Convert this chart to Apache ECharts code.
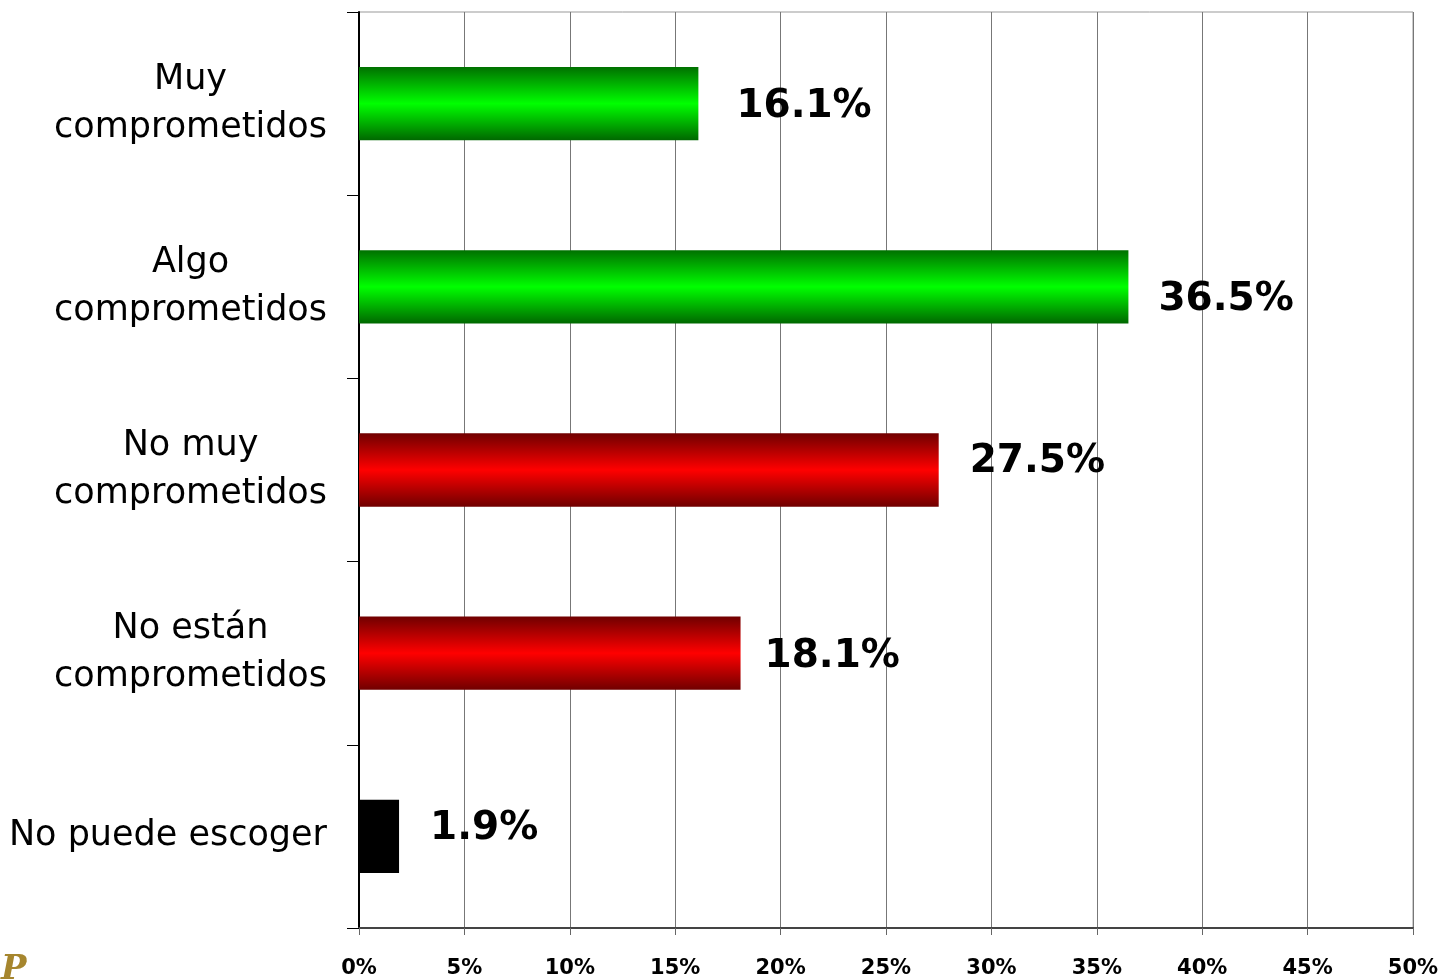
<!DOCTYPE html>
<html>
<head>
<meta charset="utf-8">
<script src="https://cdn.jsdelivr.net/npm/echarts@6/dist/echarts.min.js"></script>
<style>html,body{margin:0;padding:0;background:#fff;}#c{width:1439px;height:979px;}</style>
</head>
<body>
<div id="c"></div>
<script>
const categories = ["Muy\ncomprometidos", "Algo\ncomprometidos", "No muy\ncomprometidos", "No están\ncomprometidos", "No puede escoger"];
const values = [16.1, 36.5, 27.5, 18.1, 1.9];
const xTicks = [0, 5, 10, 15, 20, 25, 30, 35, 40, 45, 50];

const green = new echarts.graphic.LinearGradient(0, 0, 0, 1, [
  {offset: 0, color: '#007000'}, {offset: 0.5, color: '#00ff00'}, {offset: 1, color: '#006800'}]);
const red = new echarts.graphic.LinearGradient(0, 0, 0, 1, [
  {offset: 0, color: '#700000'}, {offset: 0.5, color: '#ff0000'}, {offset: 1, color: '#700000'}]);
const fills = [green, green, red, red, '#000000'];
const labelOffsets = [[8, 3], [0, 13], [1, -8], [-6, 4], [1, -8]];

const chart = echarts.init(document.getElementById('c'));
chart.setOption({
  animation: false,
  backgroundColor: '#fff',
  grid: {left: 359, right: 26, top: 12, bottom: 51, show: true, borderColor: '#999', borderWidth: 1,
    containLabel: false, outerBoundsMode: 'none'},
  xAxis: {
    type: 'value', min: 0, max: 50, interval: 5,
    axisLine: {show: true, lineStyle: {color: '#444', width: 2}},
    axisTick: {show: true, length: 7, lineStyle: {color: '#666'}},
    splitLine: {show: true, lineStyle: {color: '#777', width: 1}},
    axisLabel: {margin: 30, fontFamily: 'DejaVu Sans', fontWeight: 'bold', fontSize: 21, color: '#000',
      formatter: v => xTicks.includes(v) ? v + '%' : ''}
  },
  yAxis: {
    type: 'category', inverse: true, data: categories,
    axisLine: {show: true, lineStyle: {color: '#000', width: 2}},
    axisTick: {show: true, length: 12, lineStyle: {color: '#000'}},
    axisLabel: {
      margin: 32, color: '#000',
      formatter: v => v.split('\n').map(s => '{c|' + s + '}').join('\n'),
      rich: {c: {fontFamily: 'DejaVu Sans', fontSize: 35, lineHeight: 48, align: 'center', color: '#000'}}
    }
  },
  series: [{
    type: 'bar',
    barWidth: '40%',
    data: values.map((v, i) => ({
      value: v,
      itemStyle: {color: fills[i]},
      label: {offset: labelOffsets[i]}
    })),
    label: {
      show: true, position: 'right', distance: 30,
      fontFamily: 'DejaVu Sans', fontWeight: 'bold', fontSize: 39, color: '#000',
      formatter: p => p.value.toFixed(1) + '%'
    }
  }],
  graphic: [{
    type: 'text', left: 1, top: 953,
    style: {text: 'P', font: 'italic bold 34px "DejaVu Serif"', fill: '#a6862e'}
  }]
});
</script>
</body>
</html>
